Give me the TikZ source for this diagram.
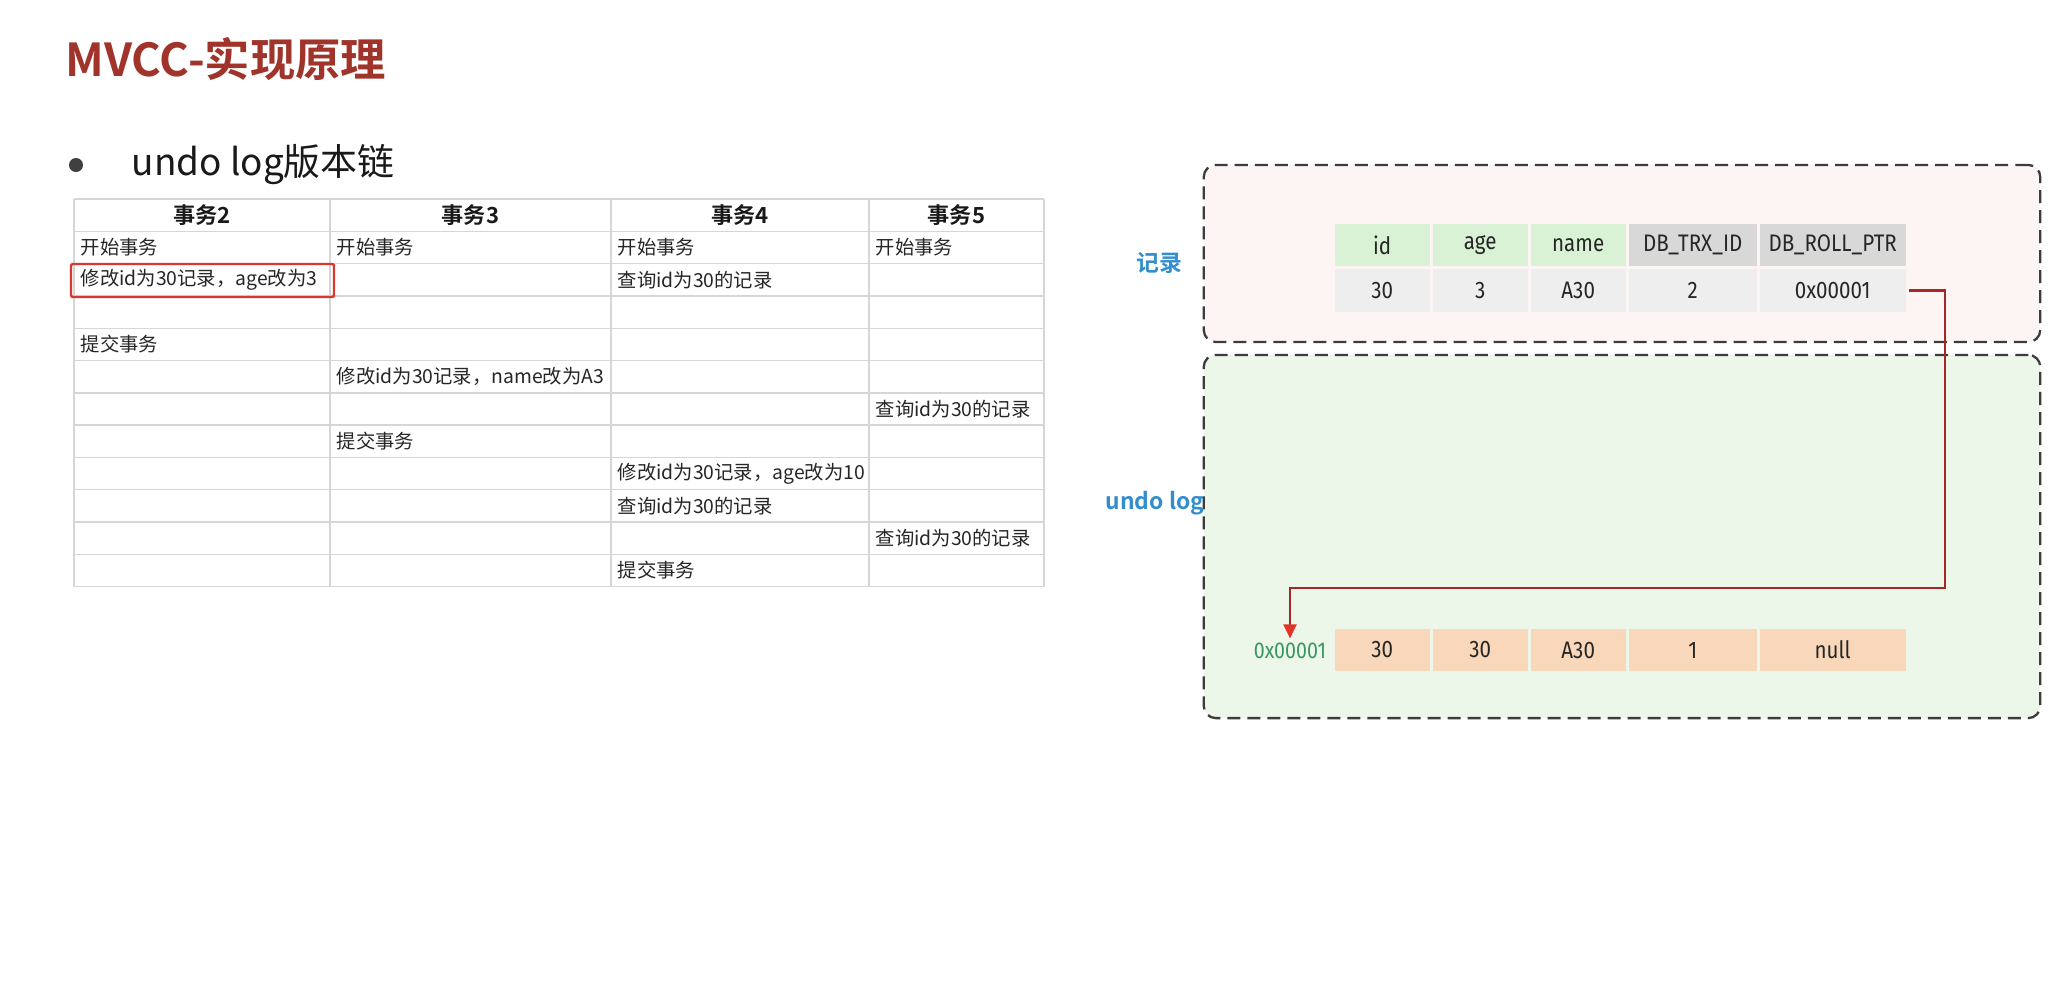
\documentclass[tikz,border=0pt]{standalone}
\usepackage{fontspec}
\setmainfont{Noto Sans CJK SC}[BoldFont={Noto Sans CJK SC Bold}]
\newfontfamily\cellfont[FakeStretch=0.86]{Fira Sans}
\usepackage{xcolor}
\usetikzlibrary{
  arrows.meta,
  positioning
}
\definecolor{TitleRed}{RGB}{160, 52, 42}
\definecolor{GridGray}{RGB}{214, 214, 214}
\definecolor{MarkRed}{RGB}{214, 58, 47}
\definecolor{LabelBlue}{RGB}{50, 142, 204}
\definecolor{AddrGreen}{RGB}{58, 150, 95}
\definecolor{HeadGreen}{RGB}{217, 242, 214}
\definecolor{HeadGray}{RGB}{216, 216, 216}
\definecolor{RowGray}{RGB}{238, 238, 238}
\definecolor{UndoPeach}{RGB}{248, 215, 186}
\definecolor{RecPink}{RGB}{253, 245, 243}
\definecolor{LogGreen}{RGB}{237, 247, 233}
\definecolor{PtrRed}{RGB}{165, 40, 40}
\definecolor{TipRed}{RGB}{224, 52, 40}
\definecolor{BoxGray}{RGB}{60, 60, 60}
\tikzset{
    txcell/.style={anchor=west, inner sep=0pt, font=\fontsize{5.5}{6.5}\selectfont, text=black!85},
    txhead/.style={inner sep=0pt, font=\fontsize{6.3}{7.5}\selectfont\bfseries, text=black!90},
    fieldcell/.style={anchor=west, minimum height=0.42cm, inner sep=0pt, font=\cellfont\fontsize{6.8}{8}\selectfont, text=black!85},
    areabox/.style={draw=BoxGray, line width=0.65pt, dash pattern=on 0.13cm off 0.07cm, rounded corners=0.12cm, minimum width=8.36cm},
    sidelabel/.style={inner sep=0pt, font=\fontsize{6.5}{8}\selectfont\bfseries, text=LabelBlue},
    ptrline/.style={draw=PtrRed, line width=0.6pt, -{Triangle[width=0.13cm, length=0.14cm, color=TipRed]}}
}

\begin{document}
\begin{tikzpicture}[x=0.01cm, y=-0.01cm]
            \useasboundingbox[fill=white] (0,0) rectangle (2054,981);

            \node[anchor=west, inner sep=0pt, font=\fontsize{12.9}{15}\selectfont\bfseries, text=TitleRed] (title) at (65,59) {MVCC-实现原理};
            \node[circle, fill=black!75, inner sep=0pt, minimum size=0.14cm] (dot) at (76,165) {};
            \node[anchor=west, inner sep=0pt, font=\fontsize{10.5}{12}\selectfont, text=black!90] (subtitle) at (131,165) {undo log版本链};

            % transaction table
            \foreach \i in {0,...,12}
                \draw[GridGray, line width=0.4pt] (74,{199+32.3*\i}) -- (1044,{199+32.3*\i});
            \foreach \x in {74,330,611,869,1044}
                \draw[GridGray, line width=0.4pt] (\x,199) -- (\x,586.6);

            \node[txhead] (tx2) at (202,215.2) {事务2};
            \node[txhead] (tx3) at (470.5,215.2) {事务3};
            \node[txhead] (tx4) at (740,215.2) {事务4};
            \node[txhead] (tx5) at (956.5,215.2) {事务5};

            \node[txcell] (a1) at (80,247.5) {开始事务};
            \node[txcell] (b1) at (336,247.5) {开始事务};
            \node[txcell] (c1) at (617,247.5) {开始事务};
            \node[txcell] (d1) at (875,247.5) {开始事务};
            \node[txcell] (a2) at (80,279.8) {修改id为30记录，age改为3};
            \node[txcell] (c2) at (617,279.8) {查询id为30的记录};
            \node[txcell] (a4) at (80,344.4) {提交事务};
            \node[txcell] (b5) at (336,376.7) {修改id为30记录，name改为A3};
            \node[txcell] (d6) at (875,409) {查询id为30的记录};
            \node[txcell] (b7) at (336,441.3) {提交事务};
            \node[txcell] (c8) at (617,473.6) {修改id为30记录，age改为10};
            \node[txcell] (c9) at (617,505.9) {查询id为30的记录};
            \node[txcell] (d10) at (875,538.2) {查询id为30的记录};
            \node[txcell] (c11) at (617,570.5) {提交事务};

            \draw[MarkRed, line width=0.7pt, rounded corners=0.02cm] (71,264) rectangle (334,297);

            % record and undo log
            \node[areabox, fill=RecPink, minimum height=1.77cm] (recarea) at (1622,253.5) {};
            \node[areabox, fill=LogGreen, minimum height=3.63cm] (logarea) at (1622,536.5) {};
            \node[sidelabel] (reclabel) at (1159,263) {记录};
            \node[sidelabel, anchor=east] (loglabel) at (1205,503) {undo log};

            \foreach \n/\l/\w/\hd/\hc/\dv/\uv in {1/1334/95/id/HeadGreen/30/30, 2/1432/95/age/HeadGreen/3/30, 3/1530/95/name/HeadGreen/A30/A30, 4/1628/128/DB\_TRX\_ID/HeadGray/2/1, 5/1759/146/DB\_ROLL\_PTR/HeadGray/0x00001/null} {
                \node[fieldcell, fill=\hc, minimum width=\w*0.01cm] (h\n) at (\l,245) {\hd};
                \node[fieldcell, fill=RowGray, minimum width=\w*0.01cm] (d\n) at (\l,290.5) {\dv};
                \node[fieldcell, fill=UndoPeach, minimum width=\w*0.01cm] (u\n) at (\l,650) {\uv};
            }
            \node[inner sep=0pt, font=\cellfont\fontsize{6.5}{8}\selectfont, text=AddrGreen] (addr) at (1290,651) {0x00001};

            \coordinate (ptrbend) at (1945,588);
            \draw[ptrline] ([xshift=0.03cm]d5.east) -| (ptrbend) -| ([yshift=0.04cm]addr.north);
        \end{tikzpicture}
\end{document}
